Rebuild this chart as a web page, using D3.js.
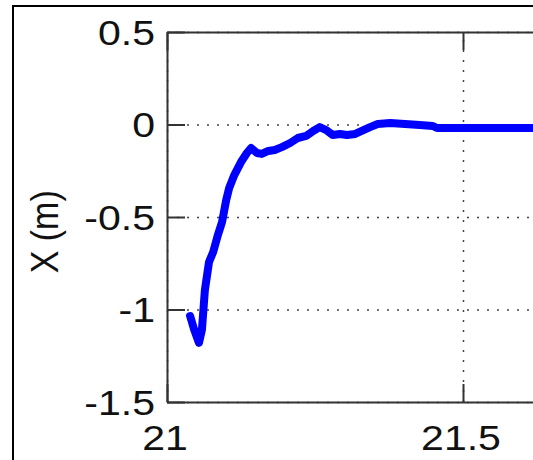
<!DOCTYPE html>
<html>
<head>
<meta charset="utf-8">
<script src="https://cdn.jsdelivr.net/npm/d3@7"></script>
<style>
  body { margin: 0; background: #fff; }
  svg { display: block; }
  .tick-label, .axis-title { font-family: "Liberation Sans", Arial, sans-serif; fill: #111; }
</style>
</head>
<body>
<svg id="chart"></svg>
<script>
// Time values (s)
const timeValues = [21.039, 21.046, 21.054, 21.059, 21.064, 21.071, 21.078, 21.086, 21.093, 21.100,
                    21.105, 21.113, 21.125, 21.135, 21.142, 21.152, 21.160, 21.171, 21.182, 21.194,
                    21.208, 21.221, 21.235, 21.247, 21.258, 21.269, 21.280, 21.292, 21.304, 21.318,
                    21.329, 21.343, 21.356, 21.377, 21.402, 21.427, 21.449, 21.456, 21.495, 21.546,
                    21.618, 21.66];
// X position (m)
const xValues = [-1.035, -1.11, -1.18, -1.11, -0.895, -0.743, -0.689, -0.597, -0.527, -0.408,
                 -0.343, -0.278, -0.203, -0.154, -0.127, -0.154, -0.159, -0.143, -0.138, -0.122,
                 -0.100, -0.073, -0.062, -0.035, -0.014, -0.030, -0.057, -0.051, -0.057, -0.051,
                 -0.035, -0.014, 0.003, 0.008, 0.003, -0.003, -0.008, -0.019, -0.019, -0.019,
                 -0.019, -0.02];

const xTicks = [21, 21.5];
const xTickLabels = ['21', '21.5'];
const yTicks = [0.5, 0, -0.5, -1, -1.5];
const yTickLabels = ['0.5', '0', '-0.5', '-1', '-1.5'];
const yTitle = 'X (m)';

const data = timeValues.map((t, i) => ({ t: t, v: xValues[i] }));

const containerWidth = 533, containerHeight = 460;
const margin = { top: 32, left: 167 };
const width = 592, height = 370;
const stretch = 1.14; // glyphs in the source are a bit wider than tall

const svg = d3.select('#chart')
    .attr('width', containerWidth)
    .attr('height', containerHeight);

// outer figure border (only left and top visible)
svg.append('path')
    .attr('d', `M13,${containerHeight} L13,6 L${containerWidth},6`)
    .attr('fill', 'none')
    .attr('stroke', '#000')
    .attr('stroke-width', 2);

const chart = svg.append('g')
    .attr('transform', `translate(${margin.left},${margin.top})`);

const xScale = d3.scaleLinear().domain([21, 22]).range([0, width]);
const yScale = d3.scaleLinear().domain([-1.5, 0.5]).range([height, 0]);

// dotted grid
chart.append('g')
    .attr('class', 'grid')
    .call(d3.axisLeft(yScale).tickValues(yTicks).tickSize(-width).tickFormat(''))
    .call(g => g.select('.domain').remove())
    .selectAll('line')
    .attr('stroke', '#444')
    .attr('stroke-width', 1.5)
    .attr('stroke-dasharray', '2,8');

chart.append('g')
    .attr('class', 'grid')
    .attr('transform', `translate(0,${height})`)
    .call(d3.axisBottom(xScale).tickValues(xTicks).tickSize(-height).tickFormat(''))
    .call(g => g.select('.domain').remove())
    .selectAll('line')
    .attr('stroke', '#444')
    .attr('stroke-width', 1.5)
    .attr('stroke-dasharray', '2,8');

// data line
const line = d3.line()
    .x(d => xScale(d.t))
    .y(d => yScale(d.v));

chart.append('path')
    .datum(data)
    .attr('fill', 'none')
    .attr('stroke', '#0000ff')
    .attr('stroke-width', 8)
    .attr('stroke-linejoin', 'round')
    .attr('stroke-linecap', 'round')
    .attr('d', line);

// box + inward ticks
const tickLen = 18;
const styleAxis = g => g.selectAll('.domain, line').attr('stroke', '#333').attr('stroke-width', 2);

chart.append('g')
    .call(d3.axisLeft(yScale).tickValues(yTicks).tickSize(-tickLen).tickSizeOuter(0).tickFormat(''))
    .call(styleAxis);
chart.append('g')
    .call(d3.axisTop(xScale).tickValues(xTicks).tickSize(-tickLen).tickSizeOuter(0).tickFormat(''))
    .call(styleAxis);
chart.append('g')
    .attr('transform', `translate(0,${height})`)
    .call(d3.axisBottom(xScale).tickValues(xTicks).tickSize(-tickLen).tickSizeOuter(0).tickFormat(''))
    .call(styleAxis);

// tick labels
chart.selectAll('.y-label')
    .data(yTicks)
    .join('text')
    .attr('class', 'tick-label y-label')
    .attr('transform', d => `translate(-12,${yScale(d)}) scale(${stretch},1)`)
    .attr('text-anchor', 'end')
    .attr('dy', '0.36em')
    .attr('font-size', 36)
    .text((d, i) => yTickLabels[i]);

chart.selectAll('.x-label')
    .data(xTicks)
    .join('text')
    .attr('class', 'tick-label x-label')
    .attr('transform', d => `translate(${xScale(d) - 2},${height + 48}) scale(${stretch},1)`)
    .attr('text-anchor', 'middle')
    .attr('font-size', 36)
    .text((d, i) => xTickLabels[i]);

// axis title
svg.append('text')
    .attr('class', 'axis-title')
    .attr('transform', `translate(58,${margin.top + height * 0.54}) scale(${stretch},1) rotate(-90)`)
    .attr('text-anchor', 'middle')
    .attr('font-size', 34)
    .text(yTitle);
</script>
</body>
</html>
